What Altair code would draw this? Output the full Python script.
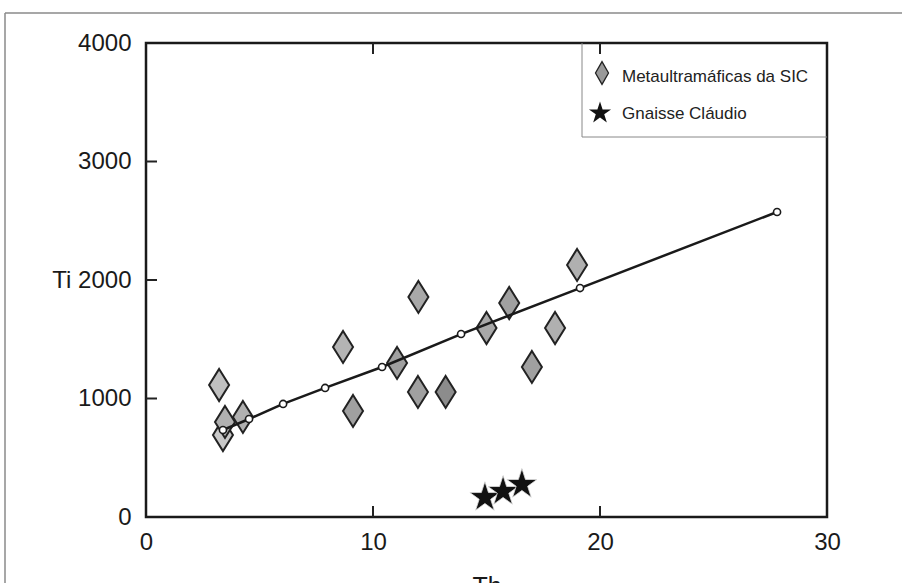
import altair as alt
import pandas as pd

# Metaultramáficas da SIC (diamonds)
dia_th = [3.39, 3.22, 3.48, 4.27, 8.68, 9.12, 11.06, 12.0, 11.98, 13.2, 15.0, 16.0, 17.0, 18.02, 18.99]
dia_ti = [692, 1114, 802, 844, 1435, 895, 1300, 1857, 1055, 1055, 1595, 1806, 1266, 1595, 2127]
dia_fill = ["#c8c8c8", "#c0c0c0", "#b0b0b0", "#b0b0b0", "#b4b4b4", "#a0a0a0", "#a0a0a0", "#a8a8a8",
            "#a0a0a0", "#8c8c8c", "#a8a8a8", "#a0a0a0", "#a0a0a0", "#b0b0b0", "#b0b0b0"]

# Gnaisse Cláudio (stars)
star_th = [14.93, 15.73, 16.56]
star_ti = [165, 216, 275]

# Trend line with open circles
line_th = [3.39, 4.54, 6.04, 7.89, 10.4, 13.88, 19.12, 27.8]
line_ti = [734, 827, 954, 1089, 1266, 1544, 1932, 2574]

x_ticks = [0, 10, 20, 30]
y_ticks = [0, 1000, 2000, 3000, 4000]
inner_x_ticks = [10, 20]
inner_y_ticks = [1000, 2000, 3000]

legend_labels = ["Metaultramáficas da SIC", "Gnaisse Cláudio"]

W, H = 681, 474
FONT = "Liberation Sans"
DIAMOND = "M0,-1.6L1,0L0,1.6L-1,0Z"
DIAMOND_LEG = "M0,-1.75L1,0L0,1.75L-1,0Z"
STAR = ("M0,-1L0.2245,-0.309L0.9511,-0.309L0.3633,0.118L0.5878,0.809L0,0.382"
        "L-0.5878,0.809L-0.3633,0.118L-0.9511,-0.309L-0.2245,-0.309Z")

dia_df = pd.DataFrame({"Th": dia_th, "Ti": dia_ti, "fill": dia_fill})
star_df = pd.DataFrame({"Th": star_th, "Ti": star_ti})
line_df = pd.DataFrame({"Th": line_th, "Ti": line_ti})
one = pd.DataFrame({"a": [0]})

xs = alt.Scale(domain=[0, 30], nice=False, zero=False)
ys = alt.Scale(domain=[0, 4000], nice=False, zero=False)

xenc = alt.X("Th:Q", scale=xs, title="Th",
             axis=alt.Axis(values=x_ticks, format="d", labelPadding=13, titlePadding=20,
                           orient="bottom", labelFlush=False))
yenc = alt.Y("Ti:Q", scale=ys, title=None,
             axis=alt.Axis(values=y_ticks, format="d", labelPadding=15, orient="left", labelFlush=False,
                           labelExpr="datum.value == 2000 ? 'Ti 2000' : datum.label"))

diamonds = alt.Chart(dia_df).mark_point(
    shape=DIAMOND, size=400, filled=True, stroke="#222222", strokeWidth=2, opacity=1
).encode(x=xenc, y=yenc, fill=alt.Fill("fill:N", scale=None))

line = alt.Chart(line_df).mark_line(color="#1a1a1a", strokeWidth=2.5).encode(
    x=alt.X("Th:Q", scale=xs), y=alt.Y("Ti:Q", scale=ys))

circles = alt.Chart(line_df).mark_point(
    shape="circle", size=50, filled=True, fill="white", stroke="#1a1a1a", strokeWidth=1.6, opacity=1
).encode(x=alt.X("Th:Q", scale=xs), y=alt.Y("Ti:Q", scale=ys))

stars = alt.Chart(star_df).mark_point(
    shape=STAR, size=1000, filled=True, fill="#111111", stroke="#dddddd", strokeWidth=0.8, opacity=1
).encode(x=alt.X("Th:Q", scale=xs), y=alt.Y("Ti:Q", scale=ys))

# inward ticks
tx = pd.DataFrame({"Th": inner_x_ticks})
ty = pd.DataFrame({"Ti": inner_y_ticks})
tick_bottom = alt.Chart(tx).mark_rule(color="#222", strokeWidth=2).encode(
    x=alt.X("Th:Q", scale=xs), y=alt.value(H), y2=alt.value(H - 11))
tick_top = alt.Chart(tx).mark_rule(color="#222", strokeWidth=2).encode(
    x=alt.X("Th:Q", scale=xs), y=alt.value(0), y2=alt.value(11))
tick_left = alt.Chart(ty).mark_rule(color="#222", strokeWidth=2).encode(
    y=alt.Y("Ti:Q", scale=ys), x=alt.value(0), x2=alt.value(11))

# outer frame lines
frame_top = alt.Chart(one).mark_rule(color="#8a8a8a", strokeWidth=1.5).encode(
    x=alt.value(-141), x2=alt.value(760), y=alt.value(-30))
frame_left = alt.Chart(one).mark_rule(color="#8a8a8a", strokeWidth=1.5).encode(
    x=alt.value(-141), y=alt.value(-30), y2=alt.value(545))

# legend box
leg_left = alt.Chart(one).mark_rule(color="#888", strokeWidth=1).encode(
    x=alt.value(436), y=alt.value(0), y2=alt.value(94))
leg_bottom = alt.Chart(one).mark_rule(color="#888", strokeWidth=1).encode(
    x=alt.value(436), x2=alt.value(W), y=alt.value(94))
leg_dia = alt.Chart(one).mark_point(
    shape=DIAMOND_LEG, size=169, filled=True, fill="#999999", stroke="#222", strokeWidth=1.3, opacity=1
).encode(x=alt.value(456), y=alt.value(30))
leg_star = alt.Chart(one).mark_point(
    shape=STAR, size=540, filled=True, fill="#111", opacity=1
).encode(x=alt.value(454), y=alt.value(70))
leg_text1 = alt.Chart(one).mark_text(
    align="left", baseline="middle", font=FONT, fontSize=17, color="#222", text=legend_labels[0]
).encode(x=alt.value(476), y=alt.value(34))
leg_text2 = alt.Chart(one).mark_text(
    align="left", baseline="middle", font=FONT, fontSize=17, color="#222", text=legend_labels[1]
).encode(x=alt.value(476), y=alt.value(71))

chart = alt.layer(
    diamonds, frame_top, frame_left, line, circles, stars,
    tick_bottom, tick_top, tick_left,
    leg_left, leg_bottom, leg_dia, leg_star, leg_text1, leg_text2
).properties(
    width=W, height=H,
    padding={"left": 146, "top": 43, "right": 75, "bottom": 66},
    autosize=alt.AutoSizeParams(type="none"),
    background="white",
).configure_view(
    stroke="#1a1a1a", strokeWidth=2.5
).configure_axis(
    domain=False, ticks=False, grid=False,
    labelFont=FONT, labelFontSize=24, labelColor="#1a1a1a",
    titleFont=FONT, titleFontSize=25, titleColor="#1a1a1a", titleFontWeight="normal",
)

chart.save("out.html", embed_options={"renderer": "svg", "actions": False})
